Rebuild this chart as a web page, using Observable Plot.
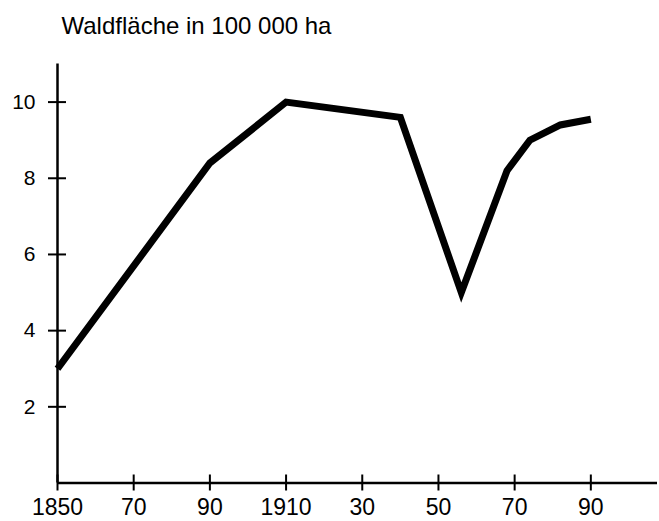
<!DOCTYPE html>
<html>
<head>
<meta charset="utf-8">
<script src="https://cdn.jsdelivr.net/npm/d3@7"></script>
<script src="https://cdn.jsdelivr.net/npm/@observablehq/plot@0.6"></script>
<style>
  html, body { margin: 0; padding: 0; background: white; }
  #chart svg { display: block; }
</style>
</head>
<body>
<div id="chart"></div>
<script>
const title = "Waldfläche in 100 000 ha";
const years = [1850, 1890, 1910, 1940, 1956, 1968, 1974, 1982, 1990];
const area = [3.0, 8.4, 10.0, 9.6, 5.0, 8.2, 9.0, 9.4, 9.55];
const xTicks = [1850, 1870, 1890, 1910, 1930, 1950, 1970, 1990];
const xTickLabels = ["1850", "70", "90", "1910", "30", "50", "70", "90"];
const yTicks = [2, 4, 6, 8, 10];

const data = years.map((year, i) => ({year, area: area[i]}));

const chart = Plot.plot({
  width: 659,
  height: 521,
  marginLeft: 57,
  marginRight: 2,
  marginTop: 63.5,
  marginBottom: 38.5,
  x: {domain: [1850, 2007.5], label: null},
  y: {domain: [0, 11], label: null},
  style: {fontFamily: "'Liberation Sans', Arial, Helvetica, sans-serif", background: "white", color: "black"},
  marks: [
    Plot.ruleX([1850], {stroke: "black", strokeWidth: 2.5}),
    Plot.ruleY([0], {stroke: "black", strokeWidth: 2.5}),
    Plot.axisX({ticks: xTicks, tickSize: 16, dy: -8, tickFormat: () => "", strokeWidth: 2, label: null}),
    Plot.axisX({ticks: xTicks, tickSize: 0, tickPadding: 16, tickFormat: d => xTickLabels[xTicks.indexOf(d)], fontSize: 23, label: null}),
    Plot.axisY({ticks: yTicks, tickSize: 18, dx: 9, tickFormat: () => "", strokeWidth: 2, label: null}),
    Plot.axisY({ticks: yTicks, tickSize: 0, tickPadding: 22, fontSize: 21, label: null}),
    Plot.line(data, {x: "year", y: "area", stroke: "black", strokeWidth: 7, strokeLinejoin: "miter", strokeMiterlimit: 10, strokeLinecap: "butt"}),
    Plot.text([title], {text: d => d, frameAnchor: "top-left", dx: 4, dy: -30.5, lineAnchor: "bottom", textAnchor: "start", fontSize: 24, fill: "black"})
  ]
});
document.getElementById("chart").append(chart);
</script>
</body>
</html>
